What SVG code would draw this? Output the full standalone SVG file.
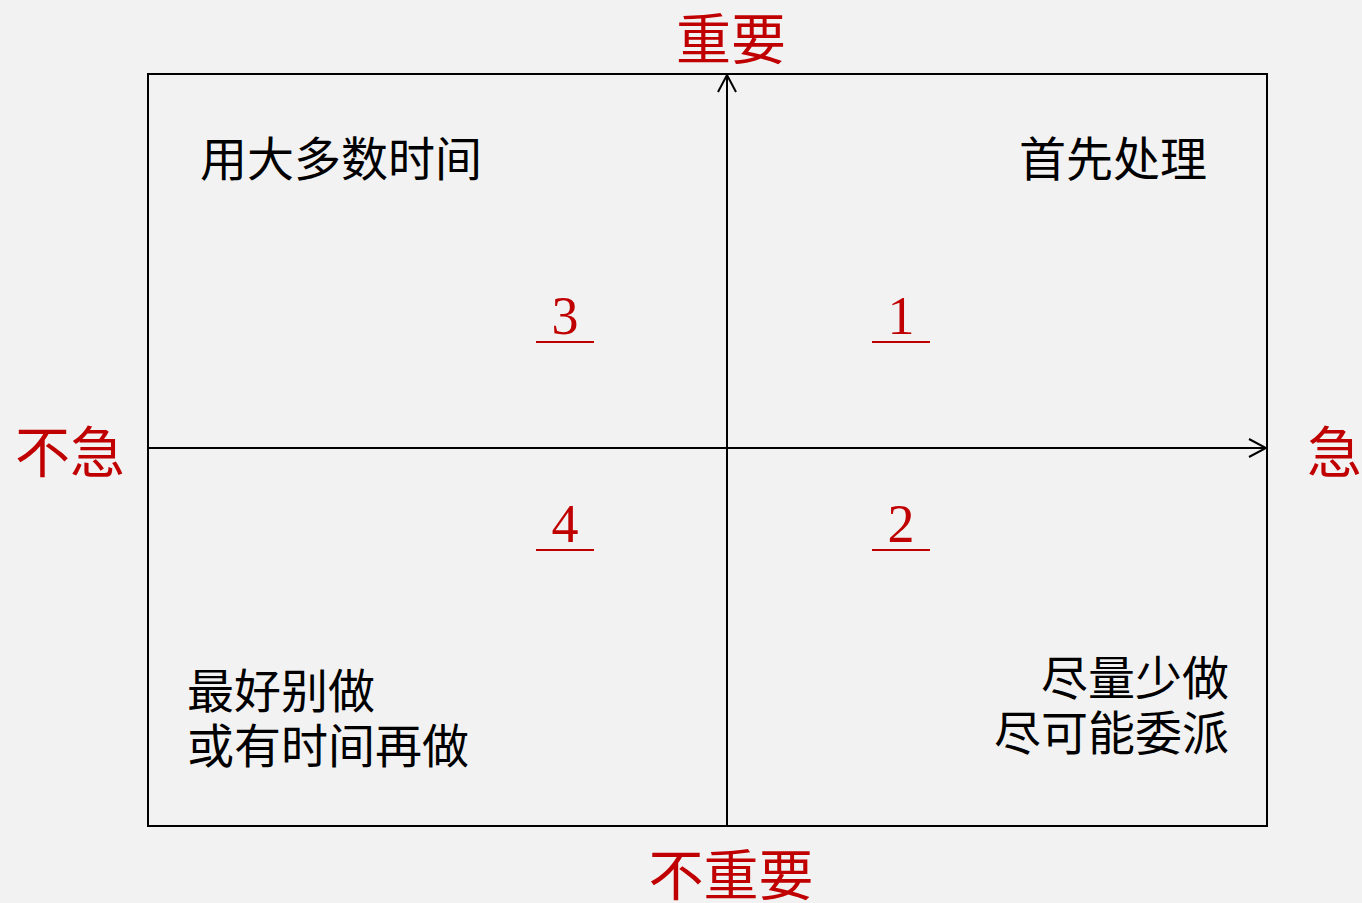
<svg xmlns="http://www.w3.org/2000/svg" width="1362" height="903" viewBox="0 0 1362 903">
<defs>
<style>
.red{font-family:"Noto Sans CJK SC","Noto Sans CJK JP",sans-serif;fill:#c00000;font-size:55px}
.blk{font-family:"Noto Sans CJK SC","Noto Sans CJK JP",sans-serif;fill:#000;font-size:47px}
.num{font-family:"Liberation Serif","DejaVu Serif",serif;fill:#c00000;font-size:54px;text-anchor:middle}
.ul{stroke:#c00000;stroke-width:2}
.ln{stroke:#000;stroke-width:2;fill:none}
</style>
<marker id="arr" viewBox="0 0 20 20" refX="18" refY="10" markerWidth="20" markerHeight="20" markerUnits="userSpaceOnUse" orient="auto">
<path d="M1,1 L18,10 L1,19" fill="none" stroke="#000" stroke-width="2"/>
</marker>
</defs>
<rect width="1362" height="903" fill="#f2f2f2"/>
<g id="frame"><rect x="148" y="74" width="1119" height="752" class="ln"/></g>
<g id="connectors">
<line x1="727" y1="826" x2="727" y2="75" class="ln" marker-end="url(#arr)"/>
<line x1="148" y1="448" x2="1266" y2="448" class="ln" marker-end="url(#arr)"/>
</g>
<g id="axis-labels">
<text class="red" x="731" y="59" text-anchor="middle">重要</text>
<text class="red" x="731" y="895" text-anchor="middle">不重要</text>
<text class="red" x="15" y="472">不急</text>
<text class="red" x="1307" y="472">急</text>
</g>
<g id="q3"><text class="blk" x="200" y="176">用大多数时间</text>
<text class="num" x="565" y="334">3</text><line x1="536" y1="342" x2="594" y2="342" class="ul"/></g>
<g id="q1"><text class="blk" x="1207" y="176" text-anchor="end">首先处理</text>
<text class="num" x="901" y="334">1</text><line x1="872" y1="342" x2="930" y2="342" class="ul"/></g>
<g id="q4"><text class="blk" x="187" y="708">最好别做</text>
<text class="blk" x="187" y="763">或有时间再做</text>
<text class="num" x="565" y="542">4</text><line x1="536" y1="550" x2="594" y2="550" class="ul"/></g>
<g id="q2"><text class="blk" x="1229" y="695" text-anchor="end">尽量少做</text>
<text class="blk" x="1229" y="750" text-anchor="end">尽可能委派</text>
<text class="num" x="901" y="542">2</text><line x1="872" y1="550" x2="930" y2="550" class="ul"/></g>
</svg>
